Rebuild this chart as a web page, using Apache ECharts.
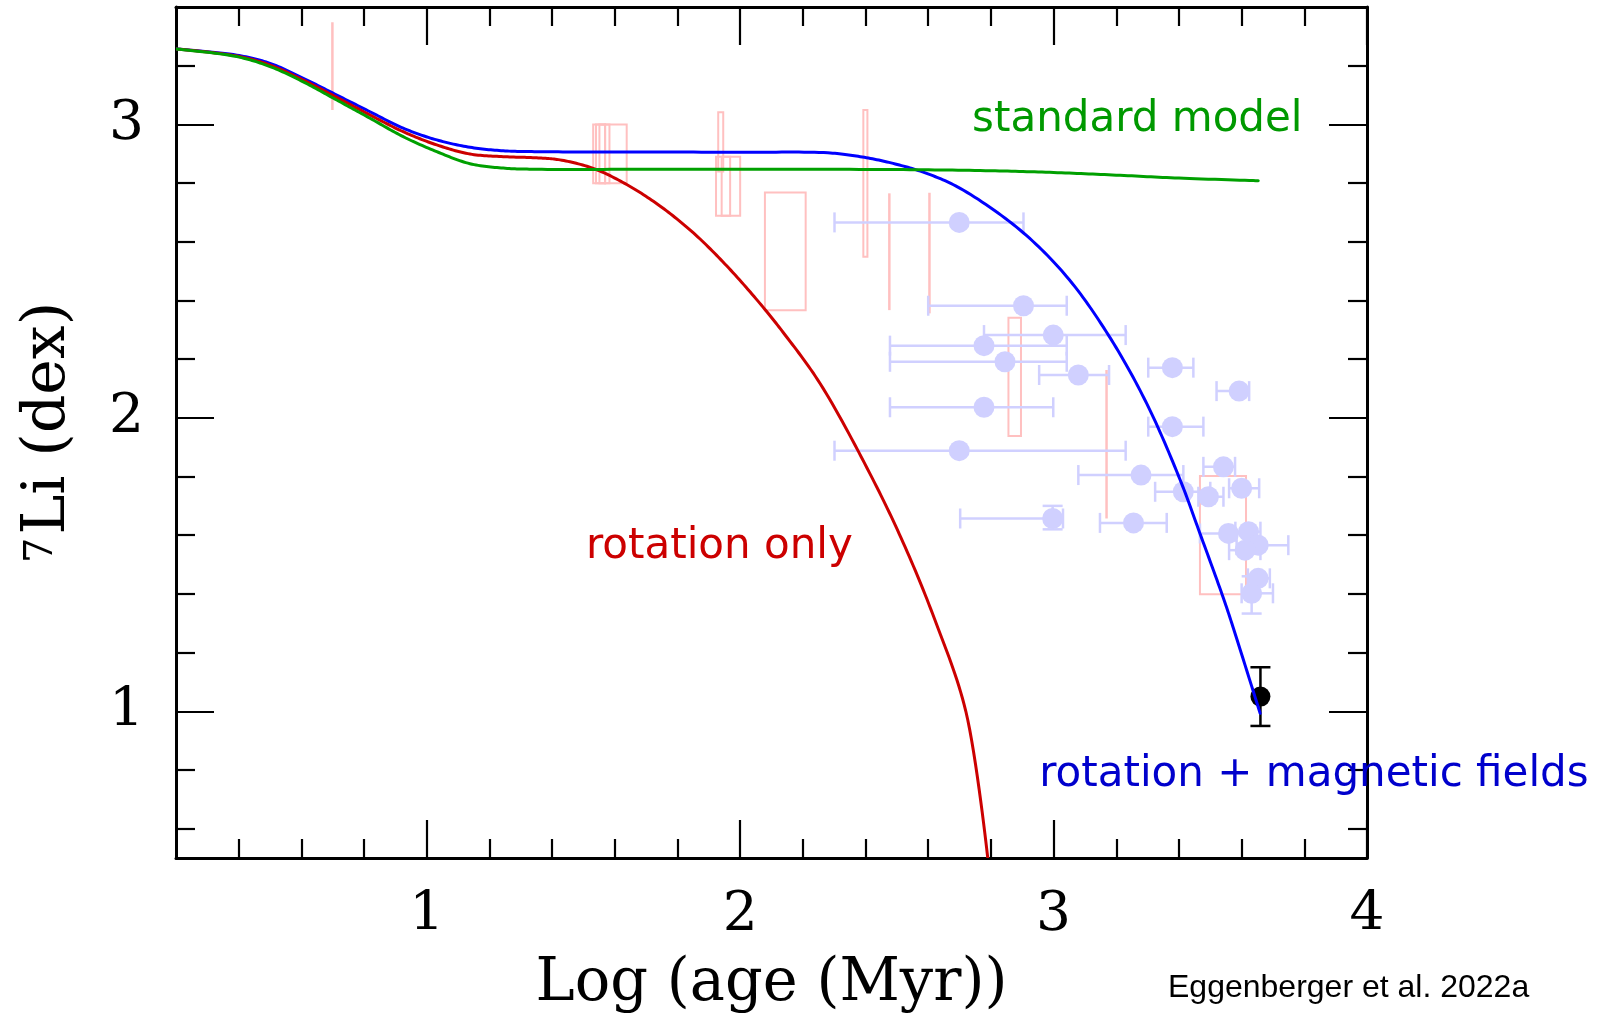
<!DOCTYPE html>
<html>
<head>
<meta charset="utf-8">
<script src="https://cdn.jsdelivr.net/npm/echarts@6/dist/echarts.min.js"></script>
<style>
  html, body { margin: 0; padding: 0; background: #ffffff; }
  #chart { width: 1610px; height: 1015px; }
</style>
</head>
<body>
<div id="chart"></div>
<script>
// Lithium depletion of solar-type stars: A(7Li) versus log age (Myr)

// axis ticks
const xMajorTicks = [1, 2, 3, 4];
const xMinorTicks = [0.4, 0.6, 0.8, 1.2, 1.4, 1.6, 1.8, 2.2, 2.4, 2.6, 2.8, 3.2, 3.4, 3.6, 3.8];
const yMajorTicks = [1, 2, 3];
const yMinorTicks = [0.6, 0.8, 1.2, 1.4, 1.6, 1.8, 2.2, 2.4, 2.6, 2.8, 3.2];

// model tracks [log age, A(Li)]
const standardModel = [
  [0.2, 3.257], [0.394, 3.231], [0.5, 3.197], [0.606, 3.145], [0.713, 3.083],
  [0.819, 3.021], [0.925, 2.958], [1.032, 2.907], [1.138, 2.866], [1.244, 2.851],
  [1.351, 2.847], [1.7, 2.847], [2.0, 2.847], [2.5, 2.846], [2.8, 2.842], [3.0, 2.836],
  [3.2, 2.827], [3.4, 2.817], [3.653, 2.808]
];
const rotationOnly = [
  [0.2, 3.257], [0.394, 3.233], [0.5, 3.202], [0.606, 3.151], [0.713, 3.092],
  [0.819, 3.032], [0.925, 2.975], [1.032, 2.930], [1.138, 2.899], [1.244, 2.890],
  [1.351, 2.886], [1.425, 2.879], [1.531, 2.850], [1.638, 2.795], [1.744, 2.722],
  [1.851, 2.630], [1.957, 2.518], [2.063, 2.390], [2.138, 2.290], [2.255, 2.117],
  [2.414, 1.810], [2.52, 1.575], [2.62, 1.315], [2.72, 1.00], [2.79, 0.50]
];
const rotationMagnetic = [
  [0.2, 3.257], [0.394, 3.236], [0.5, 3.208], [0.606, 3.157], [0.713, 3.100],
  [0.819, 3.043], [0.925, 2.987], [1.032, 2.947], [1.138, 2.922], [1.244, 2.910],
  [1.351, 2.907], [1.6, 2.906], [2.0, 2.905], [2.28, 2.903], [2.383, 2.890],
  [2.488, 2.867], [2.595, 2.833], [2.702, 2.782], [2.893, 2.640], [3.042, 2.481],
  [3.175, 2.282], [3.297, 2.049], [3.404, 1.788], [3.467, 1.606], [3.542, 1.385],
  [3.574, 1.282], [3.659, 0.993]
];

// open clusters: [age lo, age hi, A(Li) lo, A(Li) hi]
const clusterBoxes = [
  [0.699, 0.699, 3.049, 3.348],
  [1.531, 1.583, 2.799, 3.000],
  [1.540, 1.569, 2.799, 3.000],
  [1.551, 1.569, 2.799, 3.000],
  [1.569, 1.638, 2.799, 3.000],
  [1.930, 1.946, 2.839, 3.041],
  [1.923, 2.000, 2.689, 2.890],
  [1.941, 1.968, 2.689, 2.890],
  [2.079, 2.209, 2.367, 2.768],
  [2.393, 2.406, 2.549, 3.049],
  [2.476, 2.476, 2.367, 2.765],
  [2.604, 2.604, 2.356, 2.767],
  [2.856, 2.896, 1.938, 2.341],
  [3.169, 3.169, 1.657, 2.163],
  [3.467, 3.614, 1.399, 1.802]
];

// solar twins: [log age, A(Li), age lo, age hi, A(Li) lo, A(Li) hi]
const solarTwins = [
  [2.699, 2.666, 2.301, 2.904, null, null],
  [2.904, 2.382, 2.600, 3.042, null, null],
  [2.999, 2.282, 2.778, 3.230, null, null],
  [2.778, 2.246, 2.478, 3.042, null, null],
  [2.845, 2.191, 2.478, 3.042, null, null],
  [3.079, 2.146, 2.954, 3.177, null, null],
  [3.379, 2.171, 3.302, 3.446, null, null],
  [2.778, 2.036, 2.478, 2.999, null, null],
  [3.379, 1.970, 3.302, 3.478, null, null],
  [2.699, 1.888, 2.301, 3.230, null, null],
  [3.279, 1.805, 3.079, 3.414, null, null],
  [3.592, 2.091, 3.520, 3.624, null, null],
  [3.542, 1.833, 3.478, 3.579, null, null],
  [3.600, 1.760, 3.560, 3.656, null, null],
  [3.414, 1.748, 3.324, 3.500, null, null],
  [3.494, 1.731, 3.462, 3.542, null, null],
  [3.255, 1.642, 3.148, 3.361, null, null],
  [2.997, 1.657, 2.702, 3.030, 1.62, 1.70],
  [3.558, 1.606, 3.467, 3.620, null, null],
  [3.622, 1.612, 3.580, 3.660, null, null],
  [3.653, 1.566, 3.584, 3.749, null, null],
  [3.611, 1.549, 3.560, 3.660, null, null],
  [3.653, 1.453, 3.620, 3.690, null, null],
  [3.632, 1.402, 3.600, 3.700, 1.333, 1.46]
];

// the Sun: [log age, A(Li), A(Li) lo, A(Li) hi]
const sun = [3.66, 1.05, 0.95, 1.15];

const serif = '"DejaVu Serif", "Liberation Serif", serif';
const sans = '"DejaVu Sans", Verdana, sans-serif';
const frame = '#000000';
const pink = '#ffc0c0';
const lavender = '#d0d0ff';

function frameAxis(kind, position, ticks, len, withLine, extra) {
  const base = {
    type: 'value',
    position: position,
    min: kind === 'x' ? 0.2 : 0.5,
    max: kind === 'x' ? 4 : 3.4,
    splitLine: { show: false },
    axisLine: { show: withLine, onZero: false, lineStyle: { color: frame, width: 3 } },
    axisTick: { show: true, inside: true, length: len, customValues: ticks,
                lineStyle: { color: frame, width: 2.2 } },
    axisLabel: { show: false },
    silent: true
  };
  return Object.assign(base, extra || {});
}

const xAxes = [
  frameAxis('x', 'bottom', xMajorTicks, 38, true, {
    axisLabel: { show: true, customValues: xMajorTicks, margin: 30,
                 fontFamily: serif, fontSize: 55, color: '#000' },
    name: 'Log (age (Myr))', nameLocation: 'middle', nameGap: 97,
    nameTextStyle: { fontFamily: serif, fontSize: 59, color: '#000' }
  }),
  frameAxis('x', 'bottom', xMinorTicks, 19, false),
  frameAxis('x', 'top', xMajorTicks, 38, true),
  frameAxis('x', 'top', xMinorTicks, 19, false)
];
const yAxes = [
  frameAxis('y', 'left', yMajorTicks, 38, true, {
    axisLabel: { show: true, customValues: yMajorTicks, margin: 32,
                 fontFamily: serif, fontSize: 55, color: '#000' },
    name: '{sup|7}{main|Li (dex)}', nameLocation: 'middle', nameGap: 98, nameRotate: 90,
    nameTextStyle: {
      fontFamily: serif, fontSize: 60, color: '#000',
      rich: {
        main: { fontFamily: serif, fontSize: 60, color: '#000' },
        sup: { fontFamily: serif, fontSize: 40, color: '#000', verticalAlign: 'top', padding: [4, 3, 0, 0] }
      }
    }
  }),
  frameAxis('y', 'left', yMinorTicks, 19, false),
  frameAxis('y', 'right', yMajorTicks, 38, true),
  frameAxis('y', 'right', yMinorTicks, 19, false)
];

function renderClusterBox(params, api) {
  const a = api.coord([api.value(0), api.value(2)]);
  const b = api.coord([api.value(1), api.value(3)]);
  if (Math.abs(b[0] - a[0]) < 1.5) {
    return { type: 'line', shape: { x1: a[0], y1: a[1], x2: a[0], y2: b[1] },
             style: { stroke: pink, lineWidth: 2.5 } };
  }
  return {
    type: 'rect',
    shape: { x: Math.min(a[0], b[0]), y: Math.min(a[1], b[1]),
             width: Math.abs(b[0] - a[0]), height: Math.abs(b[1] - a[1]) },
    style: { fill: 'none', stroke: pink, lineWidth: 2 }
  };
}

function capLinesH(api, x0, x1, y, color, cap) {
  const p0 = api.coord([x0, y]);
  const p1 = api.coord([x1, y]);
  const st = { stroke: color, lineWidth: 2.5 };
  return [
    { type: 'line', shape: { x1: p0[0], y1: p0[1], x2: p1[0], y2: p1[1] }, style: st },
    { type: 'line', shape: { x1: p0[0], y1: p0[1] - cap, x2: p0[0], y2: p0[1] + cap }, style: st },
    { type: 'line', shape: { x1: p1[0], y1: p1[1] - cap, x2: p1[0], y2: p1[1] + cap }, style: st }
  ];
}
function capLinesV(api, x, y0, y1, color, cap) {
  const p0 = api.coord([x, y0]);
  const p1 = api.coord([x, y1]);
  const st = { stroke: color, lineWidth: 2.5 };
  return [
    { type: 'line', shape: { x1: p0[0], y1: p0[1], x2: p1[0], y2: p1[1] }, style: st },
    { type: 'line', shape: { x1: p0[0] - cap, y1: p0[1], x2: p0[0] + cap, y2: p0[1] }, style: st },
    { type: 'line', shape: { x1: p1[0] - cap, y1: p1[1], x2: p1[0] + cap, y2: p1[1] }, style: st }
  ];
}

function renderTwinBars(params, api) {
  const x = api.value(0), y = api.value(1);
  let children = capLinesH(api, api.value(2), api.value(3), y, lavender, 10);
  const ylo = solarTwins[params.dataIndex][4];
  const yhi = solarTwins[params.dataIndex][5];
  if (ylo != null && yhi != null) children = children.concat(capLinesV(api, x, ylo, yhi, lavender, 10));
  return { type: 'group', children: children };
}

function renderSunBar(params, api) {
  return { type: 'group', children: capLinesV(api, api.value(0), api.value(2), api.value(3), '#000', 10) };
}

// centripetal Catmull-Rom through the projected track points, flattened to a polyline
function splinePoints(pts) {
  const out = [pts[0]];
  const n = pts.length;
  const dist = (p, q) => Math.hypot(q[0] - p[0], q[1] - p[1]);
  for (let i = 0; i < n - 1; i++) {
    const p0 = pts[Math.max(i - 1, 0)], p1 = pts[i], p2 = pts[i + 1], p3 = pts[Math.min(i + 2, n - 1)];
    const l01 = Math.sqrt(dist(p0, p1)), l12 = Math.sqrt(dist(p1, p2)), l23 = Math.sqrt(dist(p2, p3));
    let c1 = p1.slice(), c2 = p2.slice();
    if (l01 > 1e-6) {
      const a = 2 * l01 * l01 + 3 * l01 * l12 + l12 * l12, m = 3 * l01 * (l01 + l12);
      c1 = [(p1[0] * a - p0[0] * l12 * l12 + p2[0] * l01 * l01) / m,
            (p1[1] * a - p0[1] * l12 * l12 + p2[1] * l01 * l01) / m];
    }
    if (l23 > 1e-6) {
      const b = 2 * l23 * l23 + 3 * l23 * l12 + l12 * l12, m = 3 * l23 * (l23 + l12);
      c2 = [(p2[0] * b + p1[0] * l23 * l23 - p3[0] * l12 * l12) / m,
            (p2[1] * b + p1[1] * l23 * l23 - p3[1] * l12 * l12) / m];
    }
    const steps = 16;
    for (let s = 1; s <= steps; s++) {
      const t = s / steps, u = 1 - t;
      out.push([
        u * u * u * p1[0] + 3 * u * u * t * c1[0] + 3 * u * t * t * c2[0] + t * t * t * p2[0],
        u * u * u * p1[1] + 3 * u * u * t * c1[1] + 3 * u * t * t * c2[1] + t * t * t * p2[1]
      ]);
    }
  }
  return out;
}

function track(name, data, color) {
  return {
    name: name, type: 'custom', data: data, z: 6, silent: true, clip: true,
    encode: { x: 0, y: 1 },
    renderItem: function (params, api) {
      if (params.dataIndex !== 0) return null;
      const pts = data.map(d => api.coord(d));
      return {
        type: 'polyline',
        shape: { points: splinePoints(pts) },
        style: { stroke: color, lineWidth: 3, fill: null, lineJoin: 'round', lineCap: 'round' }
      };
    }
  };
}

function note(text, at, color) {
  return {
    type: 'scatter', data: [at], symbolSize: 0, silent: true, z: 8, clip: false,
    itemStyle: { color: 'transparent', opacity: 1 },
    label: { show: true, position: 'right', distance: 0, formatter: text, opacity: 1,
             fontFamily: sans, fontSize: 42, color: color, align: 'left', verticalAlign: 'middle' }
  };
}

const chart = echarts.init(document.getElementById('chart'), null, { renderer: 'canvas' });
chart.setOption({
  animation: false,
  backgroundColor: '#ffffff',
  grid: { left: 176, right: 243, top: 7, bottom: 157, containLabel: false, outerBoundsMode: 'none' },
  xAxis: xAxes,
  yAxis: yAxes,
  series: [
    { type: 'custom', data: clusterBoxes, renderItem: renderClusterBox, z: 1, silent: true,
      encode: { x: [0, 1], y: [2, 3] } },
    { type: 'custom', data: solarTwins.map(r => r.slice(0, 4)), renderItem: renderTwinBars, z: 2, silent: true,
      encode: { x: [0, 2, 3], y: 1 } },
    { type: 'scatter', data: solarTwins.map(r => [r[0], r[1]]), symbol: 'circle', symbolSize: 21,
      itemStyle: { color: lavender, opacity: 1 }, z: 3, silent: true },
    { type: 'custom', data: [sun], renderItem: renderSunBar, z: 4, silent: true,
      encode: { x: 0, y: [1, 2, 3] } },
    { type: 'scatter', data: [[sun[0], sun[1]]], symbol: 'circle', symbolSize: 20,
      itemStyle: { color: '#000', opacity: 1 }, z: 4, silent: true },
    track('rotation + magnetic fields', rotationMagnetic, '#0000ff'),
    track('rotation only', rotationOnly, '#cc0000'),
    track('standard model', standardModel, '#00a000'),
    note('standard model', [2.74, 3.016], '#009900'),
    note('rotation only', [1.508, 1.560], '#cc0000'),
    note('rotation + magnetic fields', [2.954, 0.783], '#0000cc')
  ],
  graphic: [
    { type: 'text', x: 1168, y: 988, silent: true,
      style: { text: 'Eggenberger et al. 2022a', font: '32px "Liberation Sans", Arial, sans-serif',
               fill: '#000', textAlign: 'left', textVerticalAlign: 'middle' } }
  ]
});
</script>
</body>
</html>
